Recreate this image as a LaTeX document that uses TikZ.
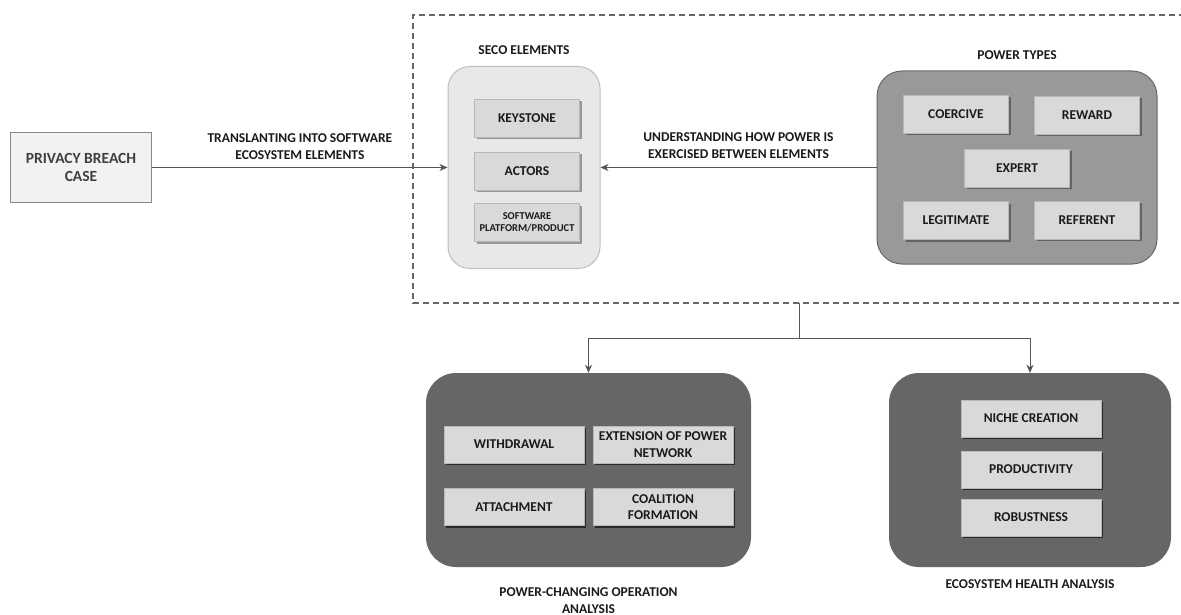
\documentclass[tikz,border=0pt]{standalone}
\usepackage{fontspec}
\setmainfont{Carlito}
\usepackage{tikz}
\usetikzlibrary{arrows.meta,positioning,calc,shadows}
\definecolor{casefill}{RGB}{242,242,242}
\definecolor{caseline}{RGB}{136,136,136}
\definecolor{secofill}{RGB}{232,232,232}
\definecolor{secoline}{RGB}{190,190,190}
\definecolor{powerfill}{RGB}{153,153,153}
\definecolor{powerline}{RGB}{102,102,102}
\definecolor{darkfill}{RGB}{102,102,102}
\definecolor{itemfill}{RGB}{217,217,217}
\definecolor{inkgray}{RGB}{85,85,85}
\definecolor{textink}{RGB}{26,26,26}
\newcommand{\capfont}[1]{\bfseries\fontsize{#1}{#1}\selectfont}

\begin{document}
\begin{tikzpicture}[
  x=1pt,y=-1pt,
  txt/.style={font=\capfont{13.5},text=textink,align=center,inner sep=0pt},
  group/.style={rectangle,rounded corners=#1,inner sep=0pt},
  group/.default=25pt,
  item/.style={rectangle,fill=itemfill,draw=itemfill!85!black,line width=0.4pt,
               minimum width=105pt,minimum height=38pt,inner sep=0pt,align=center,
               font=\capfont{13.5},text=textink,
               drop shadow={shadow xshift=2pt,shadow yshift=-2pt,fill=black,opacity=0.35}},
  wide/.style={item,minimum width=140pt,minimum height=37pt},
  arrow/.style={-{Stealth[length=8pt,width=7pt,inset=2.5pt]},draw=inkgray,line width=0.9pt}
]
\useasboundingbox (0,0) rectangle (1181,615);

% dashed frame around elements and power types
\draw[draw=powerline,line width=1.2pt,dash pattern=on 6pt off 4pt]
  (1185,15) -- (413,15) -- (413,303) -- (1185,303);
\coordinate (split) at (799,303);
\coordinate (junc) at (799,338);

\node[rectangle,fill=casefill,draw=caseline,line width=1.6pt,minimum width=141pt,
      minimum height=70pt,align=center,font=\capfont{15.5},text=black!75] (case)
      at (81,167.5) {PRIVACY BREACH\\[3pt]CASE};

\node[group=22pt,fill=secofill,draw=secoline,line width=1pt,minimum width=152pt,
      minimum height=202pt] (seco) at (524,167.5) {};
\node[txt,above=11pt of seco] (secotitle) {SECO ELEMENTS};
\node[item] (keystone) at (527,118) {KEYSTONE};
\node[item] (actors) at (527,171) {ACTORS};
\node[item,font=\capfont{10.5}] (platform) at (527,222.5) {SOFTWARE\\[2pt]PLATFORM/PRODUCT};

\node[group,fill=powerfill,draw=powerline,line width=1pt,minimum width=280pt,
      minimum height=193pt] (power) at (1017,167.5) {};
\node[txt,above=11pt of power] (powertitle) {POWER TYPES};
\node[item] (coercive) at (956,114) {COERCIVE};
\node[item] (reward) at (1087,115.5) {REWARD};
\node[item] (expert) at (1017,168) {EXPERT};
\node[item] (legitimate) at (956,220.5) {LEGITIMATE};
\node[item] (referent) at (1087,220) {REFERENT};

\node[group=30pt,fill=darkfill,minimum width=325pt,minimum height=194pt] (ops) at (588.5,470) {};
\node[item,wide] (withdrawal) at (514,444.5) {WITHDRAWAL};
\node[item,wide] (extension) at (663,444.5) {EXTENSION OF POWER\\[3pt]NETWORK};
\node[item,wide] (attachment) at (514,507) {ATTACHMENT};
\node[item,wide] (coalition) at (663,507) {COALITION\\[3pt]FORMATION};
\node[txt,below=20pt of ops] (opstitle) {POWER-CHANGING OPERATION\\[4pt]ANALYSIS};

\node[group=30pt,fill=darkfill,minimum width=282pt,minimum height=194pt] (health) at (1030,470) {};
\node[item,wide] (niche) at (1031,418.5) {NICHE CREATION};
\node[item,wide] (productivity) at (1031,469.5) {PRODUCTIVITY};
\node[item,wide] (robustness) at (1031,517.5) {ROBUSTNESS};
\node[txt,below=12pt of health] (healthtitle) {ECOSYSTEM HEALTH ANALYSIS};

\draw[arrow] (case) -- node[txt,above=7pt] {TRANSLANTING INTO SOFTWARE\\[4pt]ECOSYSTEM ELEMENTS} (seco);
\draw[arrow] (power) -- node[txt,above=8pt] {UNDERSTANDING HOW POWER IS\\[4pt]EXERCISED BETWEEN ELEMENTS} (seco);
\draw[arrow] (split) -- (junc) -| (ops.north);
\draw[arrow] (junc) -| (health.north);
\end{tikzpicture}
\end{document}
